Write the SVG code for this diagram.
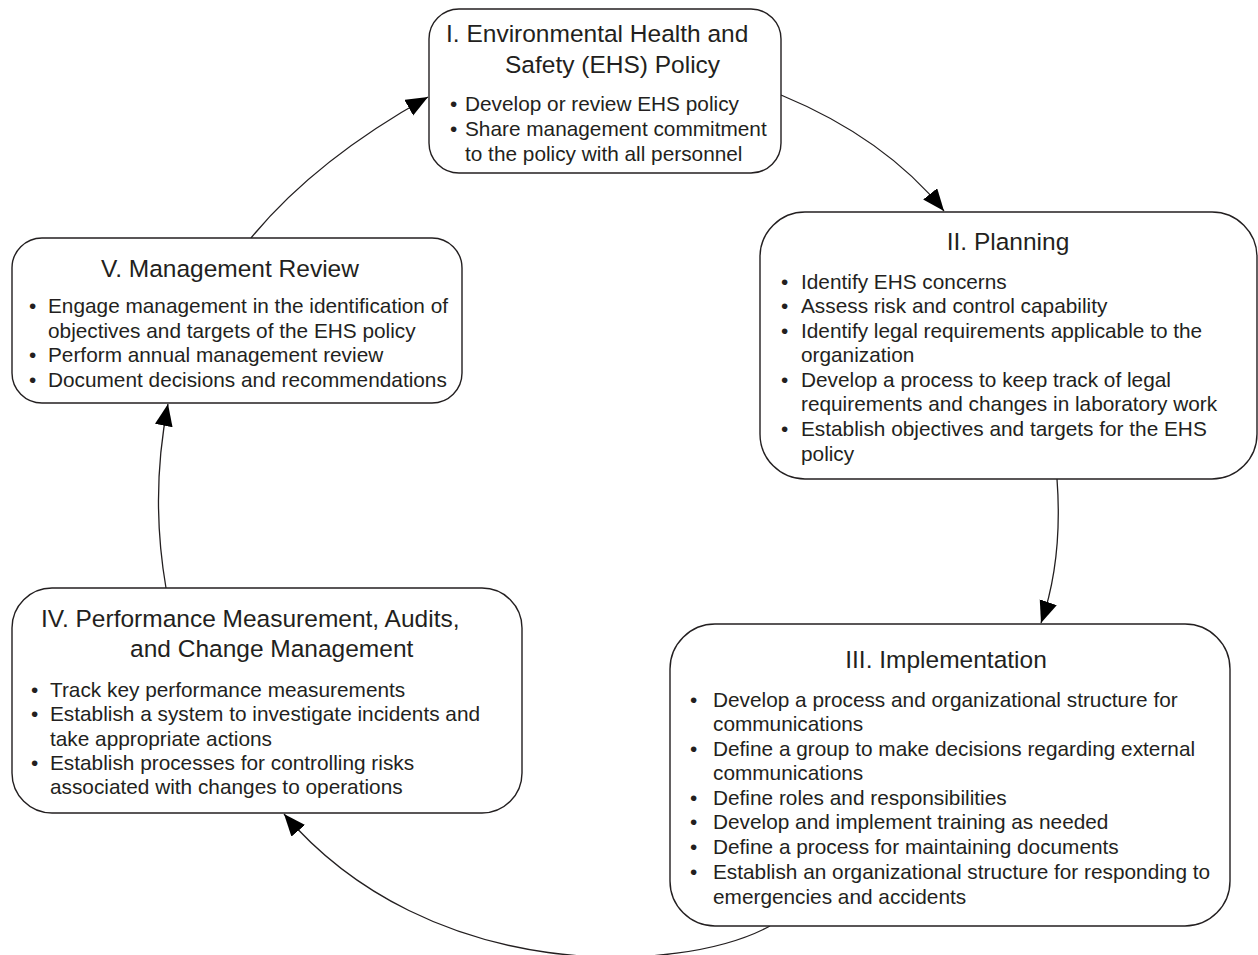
<svg xmlns="http://www.w3.org/2000/svg" width="1258" height="955" viewBox="0 0 1258 955">
<style>
.box{fill:#fff;stroke:#231f20;stroke-width:1.4}
.t{font-family:"Liberation Sans",Arial,sans-serif;font-size:24.5px;fill:#231f20}
.b{font-family:"Liberation Sans",Arial,sans-serif;font-size:20.8px;fill:#231f20}
.c{fill:none;stroke:#231f20;stroke-width:1.3}
</style>
<defs>
<marker id="ah" markerUnits="userSpaceOnUse" markerWidth="24" markerHeight="20" refX="22" refY="9" orient="auto">
<path d="M0,0 L22,9 L0,18 z" fill="#000"/>
</marker>
</defs>
<rect width="1258" height="955" fill="#fff"/>
<g id="connectors">
<path class="c" d="M781,95 Q885,138 944,211" marker-end="url(#ah)"/>
<path class="c" d="M1057,479 Q1063,560 1041,623" marker-end="url(#ah)"/>
<path class="c" d="M770,926 C680,975 430,985 284,814" marker-end="url(#ah)"/>
<path class="c" d="M166,588 Q150,495 168,404" marker-end="url(#ah)"/>
<path class="c" d="M251,238 Q315,160 428,97" marker-end="url(#ah)"/>
</g>
<g id="node1">
<rect class="box" x="429" y="9" width="352" height="164" rx="30"/>
<text class="t" x="446" y="42">I. Environmental Health and</text>
<text class="t" x="505" y="73">Safety (EHS) Policy</text>
<text class="b" x="450" y="111">•</text><text class="b" x="465" y="111">Develop or review EHS policy</text>
<text class="b" x="450" y="136">•</text><text class="b" x="465" y="136">Share management commitment</text>
<text class="b" x="465" y="161">to the policy with all personnel</text>
</g>
<g id="node2">
<rect class="box" x="760" y="212" width="497" height="267" rx="45"/>
<text class="t" x="1008" y="250" text-anchor="middle">II. Planning</text>
<text class="b" x="781" y="289">•</text><text class="b" x="801" y="289">Identify EHS concerns</text>
<text class="b" x="781" y="313">•</text><text class="b" x="801" y="313">Assess risk and control capability</text>
<text class="b" x="781" y="338">•</text><text class="b" x="801" y="338">Identify legal requirements applicable to the</text>
<text class="b" x="801" y="362">organization</text>
<text class="b" x="781" y="387">•</text><text class="b" x="801" y="387">Develop a process to keep track of legal</text>
<text class="b" x="801" y="411">requirements and changes in laboratory work</text>
<text class="b" x="781" y="436">•</text><text class="b" x="801" y="436">Establish objectives and targets for the EHS</text>
<text class="b" x="801" y="461">policy</text>
</g>
<g id="node3">
<rect class="box" x="670" y="624" width="560" height="302" rx="45"/>
<text class="t" x="946" y="668" text-anchor="middle">III. Implementation</text>
<text class="b" x="690" y="707">•</text><text class="b" x="713" y="707">Develop a process and organizational structure for</text>
<text class="b" x="713" y="731">communications</text>
<text class="b" x="690" y="756">•</text><text class="b" x="713" y="756">Define a group to make decisions regarding external</text>
<text class="b" x="713" y="780">communications</text>
<text class="b" x="690" y="805">•</text><text class="b" x="713" y="805">Define roles and responsibilities</text>
<text class="b" x="690" y="829">•</text><text class="b" x="713" y="829">Develop and implement training as needed</text>
<text class="b" x="690" y="854">•</text><text class="b" x="713" y="854">Define a process for maintaining documents</text>
<text class="b" x="690" y="879">•</text><text class="b" x="713" y="879">Establish an organizational structure for responding to</text>
<text class="b" x="713" y="904">emergencies and accidents</text>
</g>
<g id="node4">
<rect class="box" x="12" y="588" width="510" height="225" rx="40"/>
<text class="t" x="41" y="627">IV. Performance Measurement, Audits,</text>
<text class="t" x="130" y="657">and Change Management</text>
<text class="b" x="31" y="697">•</text><text class="b" x="50" y="697">Track key performance measurements</text>
<text class="b" x="31" y="721">•</text><text class="b" x="50" y="721">Establish a system to investigate incidents and</text>
<text class="b" x="50" y="746">take appropriate actions</text>
<text class="b" x="31" y="770">•</text><text class="b" x="50" y="770">Establish processes for controlling risks</text>
<text class="b" x="50" y="794">associated with changes to operations</text>
</g>
<g id="node5">
<rect class="box" x="12" y="238" width="450" height="165" rx="30"/>
<text class="t" x="230" y="277" text-anchor="middle">V. Management Review</text>
<text class="b" x="29" y="313">•</text><text class="b" x="48" y="313">Engage management in the identification of</text>
<text class="b" x="48" y="338">objectives and targets of the EHS policy</text>
<text class="b" x="29" y="362">•</text><text class="b" x="48" y="362">Perform annual management review</text>
<text class="b" x="29" y="387">•</text><text class="b" x="48" y="387">Document decisions and recommendations</text>
</g>
</svg>
